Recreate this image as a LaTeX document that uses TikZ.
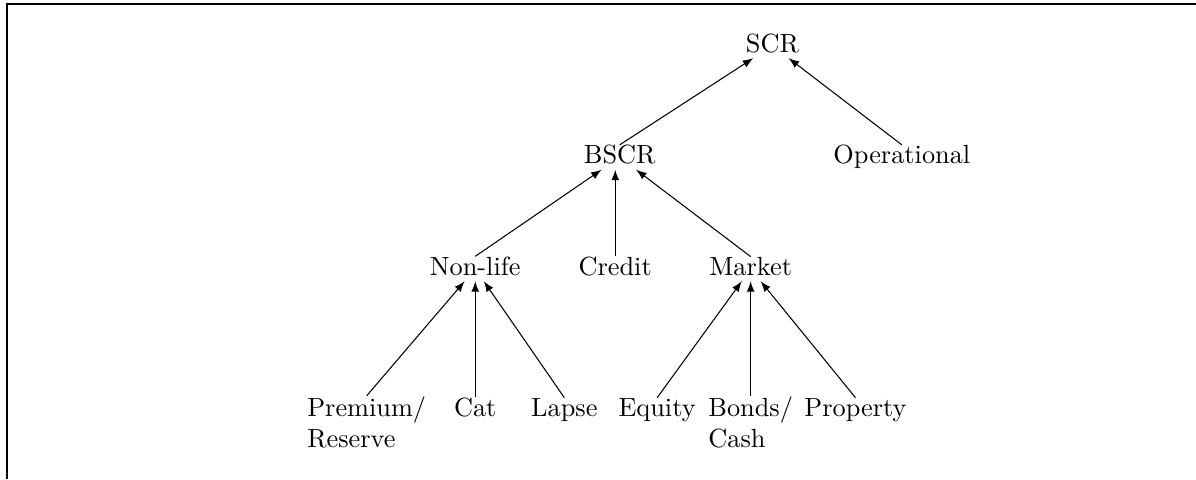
\documentclass[tikz,border=0pt]{standalone}
\begin{document}
\begin{tikzpicture}[>=latex,->,inner sep=0pt,text depth=2pt]
    \useasboundingbox (0,0) rectangle (15.98,-6.40);
    \draw[-,line width=0.8pt] (0.094,-6.40) -- (0.094,-0.053) -- (15.98,-0.053);
    \begin{scope}[every node/.style={anchor=base,align=left}]
        \node(scr) at (10.32,-0.70) {SCR};
        \node(bscr) at (8.28,-2.19) {BSCR};
        \node(op) at (12.05,-2.19) {Operational};
        \node(nonlife) at (6.35,-3.68) {Non-life};
        \node(credit) at (8.22,-3.68) {Credit};
        \node(market) at (10.03,-3.68) {Market};
        \node(prem) at (4.90,-5.98) {Premium/\\Reserve};
        \node(cat) at (6.35,-5.56) {Cat};
        \node(lapse) at (7.54,-5.56) {Lapse};
        \node(equity) at (8.78,-5.56) {Equity};
        \node(bonds) at (10.03,-5.98) {Bonds/\\Cash};
        \node(prop) at (11.43,-5.56) {Property};
    \end{scope}
    \draw (bscr.north) -- (scr);
    \draw (op.north) -- (scr);
    \draw (nonlife.north) -- (bscr);
    \draw (credit.north) -- (credit.north |- bscr.south);
    \draw (market.north) -- (bscr);
    \draw (prem.north) -- (nonlife);
    \draw (cat.north) -- (nonlife);
    \draw (lapse.north) -- (nonlife);
    \draw (equity.north) -- (market);
    \draw (bonds.north) -- (market);
    \draw (prop.north) -- (market);
\end{tikzpicture}
\end{document}
